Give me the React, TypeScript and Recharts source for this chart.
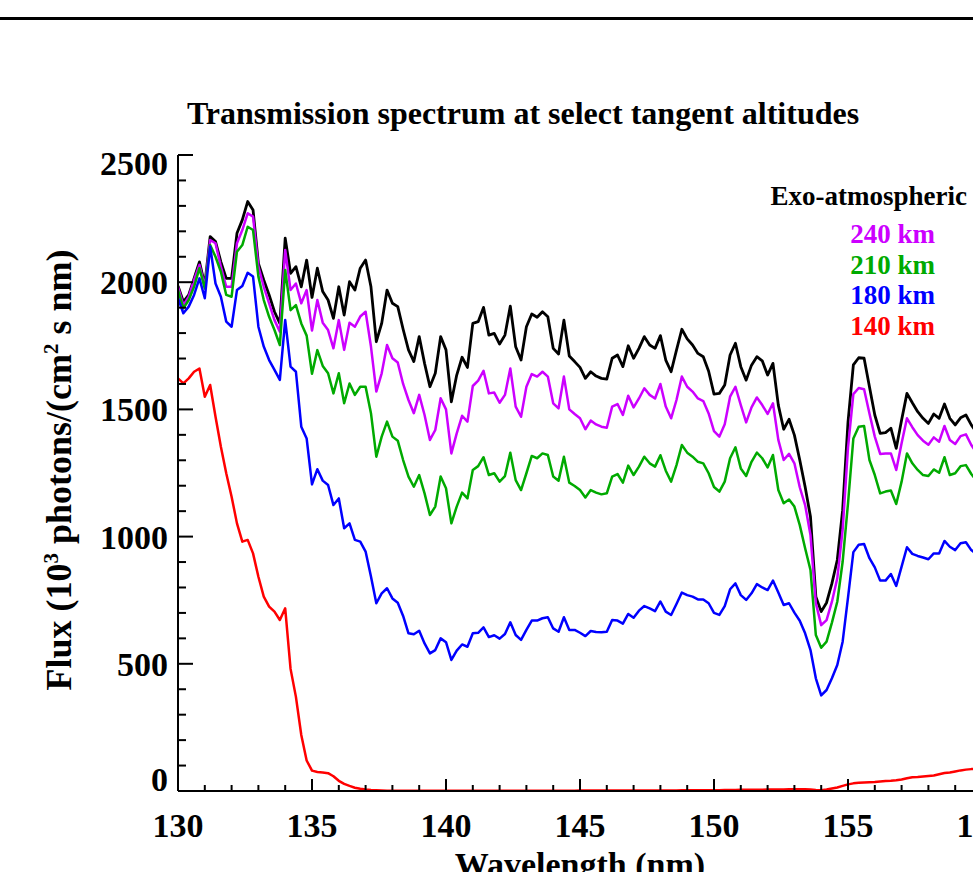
import { LineChart, Line, XAxis, YAxis } from 'recharts'

// Wavelength grid (nm), 0.2 nm steps
const wavelength = [
  130, 130.2, 130.4, 130.6, 130.8, 131, 131.2, 131.4, 131.6, 131.8,
  132, 132.2, 132.4, 132.6, 132.8, 133, 133.2, 133.4, 133.6, 133.8,
  134, 134.2, 134.4, 134.6, 134.8, 135, 135.2, 135.4, 135.6, 135.8,
  136, 136.2, 136.4, 136.6, 136.8, 137, 137.2, 137.4, 137.6, 137.8,
  138, 138.2, 138.4, 138.6, 138.8, 139, 139.2, 139.4, 139.6, 139.8,
  140, 140.2, 140.4, 140.6, 140.8, 141, 141.2, 141.4, 141.6, 141.8,
  142, 142.2, 142.4, 142.6, 142.8, 143, 143.2, 143.4, 143.6, 143.8,
  144, 144.2, 144.4, 144.6, 144.8, 145, 145.2, 145.4, 145.6, 145.8,
  146, 146.2, 146.4, 146.6, 146.8, 147, 147.2, 147.4, 147.6, 147.8,
  148, 148.2, 148.4, 148.6, 148.8, 149, 149.2, 149.4, 149.6, 149.8,
  150, 150.2, 150.4, 150.6, 150.8, 151, 151.2, 151.4, 151.6, 151.8,
  152, 152.2, 152.4, 152.6, 152.8, 153, 153.2, 153.4, 153.6, 153.8,
  154, 154.2, 154.4, 154.6, 154.8, 155, 155.2, 155.4, 155.6, 155.8,
  156, 156.2, 156.4, 156.6, 156.8, 157, 157.2, 157.4, 157.6, 157.8,
  158, 158.2, 158.4, 158.6, 158.8, 159, 159.2, 159.4, 159.6, 159.8,
  160,
]

// Flux, 10^3 photons/(cm^2 s nm)
const exoAtmospheric = [
  1985, 1923, 1950, 2015, 2080, 1989, 2179, 2160, 2080, 2015,
  2015, 2192, 2245, 2317, 2284, 2074, 2009, 1950, 1884, 1838,
  2173, 2035, 2061, 1982, 2087, 1940, 2055, 1963, 1930, 1858,
  1982, 1871, 2002, 1969, 2055, 2087, 1982, 1766, 1838, 1969,
  1917, 1904, 1815, 1734, 1688, 1786, 1681, 1589, 1642, 1786,
  1734, 1530, 1635, 1705, 1665, 1838, 1845, 1901, 1792, 1799,
  1757, 1792, 1906, 1746, 1694, 1825, 1875, 1862, 1884, 1864,
  1740, 1718, 1851, 1710, 1688, 1665, 1622, 1648, 1631, 1622,
  1619, 1701, 1714, 1668, 1750, 1701, 1740, 1786, 1753, 1740,
  1790, 1694, 1648, 1733, 1815, 1777, 1753, 1720, 1707, 1650,
  1560, 1563, 1596, 1714, 1760, 1668, 1615, 1674, 1707, 1691,
  1635, 1681, 1517, 1422, 1461, 1399, 1301, 1196, 1078, 764,
  705, 740, 816, 908, 1104, 1450, 1675, 1703, 1701, 1589,
  1478, 1406, 1409, 1426, 1347, 1458, 1563, 1526, 1491, 1465,
  1445, 1482, 1465, 1521, 1465, 1439, 1467, 1478, 1439, 1410,
  1400,
]

const km240 = [
  1982, 1910, 1943, 2009, 2068, 1982, 2166, 2153, 2061, 1982,
  1982, 2153, 2205, 2271, 2258, 2061, 1982, 1917, 1851, 1805,
  2127, 1969, 1995, 1917, 1969, 1810, 1930, 1841, 1812, 1740,
  1851, 1734, 1841, 1825, 1865, 1884, 1747, 1570, 1642, 1753,
  1701, 1684, 1600, 1537, 1485, 1557, 1478, 1380, 1419, 1544,
  1500, 1327, 1406, 1475, 1452, 1592, 1613, 1652, 1563, 1566,
  1526, 1557, 1661, 1511, 1471, 1589, 1639, 1629, 1648, 1629,
  1524, 1504, 1629, 1500, 1482, 1465, 1422, 1456, 1441, 1432,
  1428, 1511, 1521, 1478, 1554, 1508, 1543, 1583, 1557, 1543,
  1600, 1511, 1465, 1537, 1629, 1589, 1570, 1543, 1533, 1484,
  1415, 1393, 1442, 1550, 1589, 1517, 1449, 1508, 1547, 1517,
  1482, 1524, 1380, 1301, 1325, 1288, 1194, 1124, 1006, 738,
  652, 672, 744, 836, 1026, 1350, 1560, 1584, 1579, 1484,
  1393, 1325, 1327, 1327, 1262, 1367, 1465, 1430, 1399, 1377,
  1361, 1390, 1373, 1435, 1380, 1364, 1395, 1402, 1360, 1330,
  1320,
]

const km210 = [
  1969, 1897, 1930, 1982, 2055, 1975, 2146, 2100, 2041, 1950,
  1943, 2120, 2146, 2218, 2205, 2022, 1930, 1864, 1812, 1753,
  2048, 1890, 1910, 1838, 1790, 1640, 1733, 1671, 1642, 1563,
  1642, 1524, 1602, 1557, 1589, 1589, 1485, 1314, 1393, 1452,
  1393, 1377, 1301, 1236, 1196, 1242, 1170, 1085, 1118, 1236,
  1190, 1052, 1118, 1173, 1150, 1262, 1277, 1312, 1242, 1249,
  1216, 1238, 1330, 1222, 1183, 1249, 1317, 1308, 1327, 1321,
  1236, 1220, 1314, 1212, 1199, 1183, 1154, 1183, 1173, 1166,
  1170, 1236, 1246, 1212, 1279, 1242, 1275, 1314, 1288, 1275,
  1320, 1259, 1216, 1281, 1360, 1330, 1314, 1294, 1288, 1249,
  1195, 1177, 1216, 1308, 1351, 1268, 1238, 1294, 1330, 1308,
  1272, 1321, 1183, 1131, 1146, 1118, 1045, 954, 869, 613,
  563, 587, 662, 744, 901, 1130, 1386, 1432, 1435, 1301,
  1242, 1170, 1177, 1181, 1128, 1216, 1327, 1288, 1262, 1242,
  1238, 1264, 1251, 1312, 1242, 1249, 1277, 1281, 1246, 1220,
  1210,
]

const km180 = [
  1937, 1878, 1904, 1950, 2015, 1937, 2140, 1995, 1943, 1845,
  1825, 1969, 1985, 2037, 2022, 1825, 1747, 1694, 1655, 1616,
  1851, 1668, 1648, 1432, 1386, 1205, 1265, 1220, 1203, 1124,
  1150, 1033, 1052, 987, 980, 941, 843, 738, 777, 797,
  757, 740, 688, 620, 616, 630, 580, 541, 554, 600,
  585, 515, 552, 576, 567, 620, 622, 643, 605, 612,
  599, 617, 663, 613, 594, 633, 670, 670, 679, 683,
  639, 626, 683, 633, 633, 622, 609, 629, 625, 624,
  626, 672, 670, 658, 696, 681, 709, 727, 718, 707,
  745, 705, 692, 735, 780, 770, 764, 753, 753, 738,
  700, 692, 727, 793, 816, 770, 751, 777, 813, 800,
  790, 827, 780, 731, 738, 701, 669, 620, 554, 443,
  376, 397, 443, 495, 587, 760, 939, 968, 971, 915,
  879, 827, 827, 853, 806, 882, 958, 932, 924, 918,
  911, 934, 934, 983, 960, 947, 974, 978, 947, 930,
  920,
]

const km140 = [
  1622, 1602, 1622, 1648, 1661, 1550, 1596, 1471, 1353, 1249,
  1157, 1052, 980, 987, 934, 842, 764, 725, 705, 672,
  718, 480, 370, 220, 120, 80, 75, 73, 70, 58,
  40, 28, 20, 13, 9, 6, 4, 3, 2, 1,
  1, 1, 1, 1, 1, 1, 1, 1, 1, 1,
  1, 1, 1, 1, 1, 1, 1, 1, 1, 1,
  1, 1, 1, 1, 1, 1, 1, 1, 1, 1,
  1, 1, 1, 1, 1, 2, 2, 2, 2, 2,
  2, 2, 2, 2, 2, 2, 2, 2, 2, 2,
  2, 2, 2, 2, 3, 3, 3, 3, 3, 3,
  3, 3, 4, 4, 4, 5, 5, 5, 5, 5,
  6, 6, 6, 6, 7, 7, 7, 7, 6, 4,
  3, 6, 10, 14, 20, 26, 30, 32, 33, 34,
  35, 37, 39, 40, 42, 45, 50, 54, 55, 57,
  59, 61, 66, 71, 73, 77, 81, 84, 86, 87,
  88,
]

const xTicks = [
  130, 131, 132, 133, 134, 135, 136, 137, 138, 139, 140, 141, 142, 143, 144, 145,
  146, 147, 148, 149, 150, 151, 152, 153, 154, 155, 156, 157, 158, 159, 160,
]
const xLabels = [130, 135, 140, 145, 150, 155, 160]
const yTicks = [
  0, 100, 200, 300, 400, 500, 600, 700, 800, 900, 1000, 1100, 1200,
  1300, 1400, 1500, 1600, 1700, 1800, 1900, 2000, 2100, 2200, 2300, 2400, 2500,
]
const yLabels = [0, 500, 1000, 1500, 2000, 2500]

const legendItems = [
  { label: '240 km', color: '#cc00ff' },
  { label: '210 km', color: '#00aa00' },
  { label: '180 km', color: '#0000ff' },
  { label: '140 km', color: '#ff0000' },
]

const FONT = '"Liberation Serif", "Times New Roman", serif'
const PLOT = { left: 178, right: 982, top: 155, bottom: 791 }

const rows = wavelength.map((w, i) => ({
  w,
  exo: exoAtmospheric[i],
  km240: km240[i],
  km210: km210[i],
  km180: km180[i],
  km140: km140[i],
}))

function BottomTick({ x, payload }: any) {
  const major = xLabels.includes(payload.value)
  return (
    <g>
      <line x1={x} x2={x} y1={PLOT.bottom} y2={PLOT.bottom - (major ? 12 : 6)} stroke="#000" strokeWidth={2} />
      {major && (
        <text x={x} y={837} textAnchor="middle" fontSize={34} fontWeight="bold" fontFamily={FONT} fill="#000">
          {payload.value}
        </text>
      )}
    </g>
  )
}

function TopTick({ x, payload }: any) {
  const major = xLabels.includes(payload.value)
  return <line x1={x} x2={x} y1={PLOT.top} y2={PLOT.top + (major ? 12 : 6)} stroke="#000" strokeWidth={2} />
}

function LeftTick({ y, payload }: any) {
  const major = yLabels.includes(payload.value)
  const labelY = Math.min(Math.max(y, 163), 779) + 12
  return (
    <g>
      <line x1={PLOT.left} x2={PLOT.left + (major ? 15 : 8)} y1={y} y2={y} stroke="#000" strokeWidth={2} />
      {major && (
        <text x={168} y={labelY} textAnchor="end" fontSize={34} fontWeight="bold" fontFamily={FONT} fill="#000">
          {payload.value}
        </text>
      )}
    </g>
  )
}

function RightTick({ y, payload }: any) {
  const major = yLabels.includes(payload.value)
  return <line x1={PLOT.right} x2={PLOT.right - (major ? 15 : 8)} y1={y} y2={y} stroke="#000" strokeWidth={2} />
}

export default function App() {
  return (
    <div
      style={{
        position: 'fixed',
        left: 0,
        top: 0,
        width: 973,
        height: 872,
        overflow: 'hidden',
        background: '#fff',
      }}
    >
      <div style={{ position: 'absolute', left: 0, top: 17, width: 973, height: 3, background: '#000' }} />

      <div style={{ position: 'absolute', left: 0, top: 0 }}>
        <LineChart width={1010} height={872} data={rows} margin={{ top: 155, right: 28, bottom: 0, left: 78 }}>
          <XAxis
            xAxisId="bottom"
            dataKey="w"
            type="number"
            domain={[130, 160]}
            ticks={xTicks}
            interval={0}
            height={81}
            axisLine={{ stroke: '#000', strokeWidth: 2 }}
            tickLine={false}
            tick={BottomTick}
            allowDataOverflow
          />
          <XAxis
            xAxisId="top"
            orientation="top"
            dataKey="w"
            type="number"
            domain={[130, 160]}
            ticks={xTicks}
            interval={0}
            height={0}
            axisLine={{ stroke: '#000', strokeWidth: 2 }}
            tickLine={false}
            tick={TopTick}
            allowDataOverflow
          />
          <YAxis
            yAxisId="left"
            type="number"
            domain={[0, 2500]}
            ticks={yTicks}
            interval={0}
            width={100}
            axisLine={{ stroke: '#000', strokeWidth: 2 }}
            tickLine={false}
            tick={LeftTick}
            allowDataOverflow
          />
          <YAxis
            yAxisId="right"
            orientation="right"
            type="number"
            domain={[0, 2500]}
            ticks={yTicks}
            interval={0}
            width={0}
            axisLine={{ stroke: '#000', strokeWidth: 2 }}
            tickLine={false}
            tick={RightTick}
            allowDataOverflow
          />
          <Line xAxisId="bottom" yAxisId="left" dataKey="exo" type="linear" stroke="#000000" strokeWidth={2.8} strokeLinejoin="round" dot={false} isAnimationActive={false} />
          <Line xAxisId="bottom" yAxisId="left" dataKey="km240" type="linear" stroke="#cc00ff" strokeWidth={2.5} strokeLinejoin="round" dot={false} isAnimationActive={false} />
          <Line xAxisId="bottom" yAxisId="left" dataKey="km210" type="linear" stroke="#00aa00" strokeWidth={2.5} strokeLinejoin="round" dot={false} isAnimationActive={false} />
          <Line xAxisId="bottom" yAxisId="left" dataKey="km180" type="linear" stroke="#0000ff" strokeWidth={2.5} strokeLinejoin="round" dot={false} isAnimationActive={false} />
          <Line xAxisId="bottom" yAxisId="left" dataKey="km140" type="linear" stroke="#ff0000" strokeWidth={2.5} strokeLinejoin="round" dot={false} isAnimationActive={false} />
        </LineChart>
      </div>

      <svg
        width={973}
        height={872}
        style={{ position: 'absolute', left: 0, top: 0, pointerEvents: 'none' }}
        fontFamily={FONT}
        fontWeight="bold"
      >
        <text x={523} y={124} textAnchor="middle" fontSize={32} fill="#000">
          Transmission spectrum at select tangent altitudes
        </text>

        <text x={967} y={205} textAnchor="end" fontSize={27} fill="#000">
          Exo-atmospheric
        </text>
        {legendItems.map((item, i) => (
          <text key={item.label} x={935} y={243 + i * 30.5} textAnchor="end" fontSize={27} fill={item.color}>
            {item.label}
          </text>
        ))}

        <text x={580} y={876} textAnchor="middle" fontSize={34} fill="#000">
          Wavelength (nm)
        </text>

        <text x={71} y={470} textAnchor="middle" fontSize={36} fill="#000" transform="rotate(-90, 71, 470)">
          Flux (10
          <tspan dy={-13} fontSize={21}>3</tspan>
          <tspan dy={13}> photons/(cm</tspan>
          <tspan dy={-13} fontSize={21}>2</tspan>
          <tspan dy={13}> s nm)</tspan>
        </text>
      </svg>
    </div>
  )
}
